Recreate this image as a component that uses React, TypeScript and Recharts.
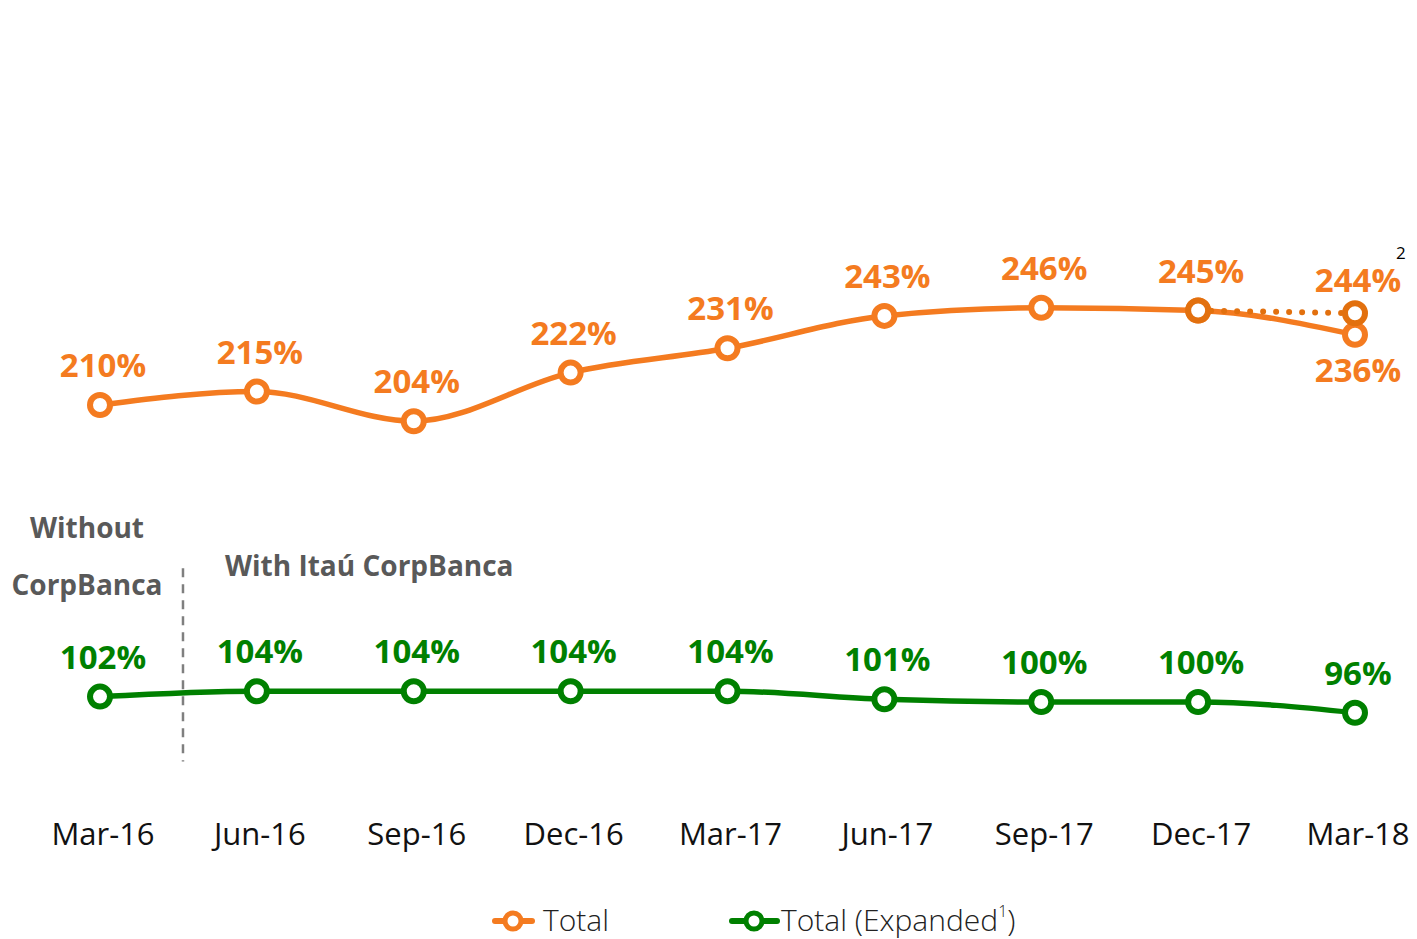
import React from 'react'
import { LineChart, Line, XAxis, YAxis, ReferenceLine } from 'recharts'

const categories = ['Mar-16', 'Jun-16', 'Sep-16', 'Dec-16', 'Mar-17', 'Jun-17', 'Sep-17', 'Dec-17', 'Mar-18']
const totalValues = [210, 215, 204, 222, 231, 243, 246, 245, 236]
const expandedValues = [102, 104, 104, 104, 104, 101, 100, 100, 96]
const projectedValues = [null, null, null, null, null, null, null, 245, 244]

const ORANGE = '#F47B20'
const ORANGE_DARK = '#E2700E'
const GREEN = '#008000'
const GREY = '#595959'
const FONT = '"Open Sans", "Noto Sans", sans-serif'

const data = categories.map((name, i) => ({
  name,
  total: totalValues[i],
  expanded: expandedValues[i],
  projected: projectedValues[i]
}))

const makeDot = (color: string, onlyFrom = 0) => (props: any) => {
  const { cx, cy, index, value } = props
  if (value == null || cx == null || index < onlyFrom) return <g key={`d-${index}`} />
  return <circle key={`d-${index}`} cx={cx} cy={cy} r={10} fill="#fff" stroke={color} strokeWidth={6} />
}

const makeLabel = (color: string, belowIndex = -1, onlyIndex = -1) => (props: any) => {
  const { x, y, value, index } = props
  if (value == null) return null
  if (onlyIndex >= 0 && index !== onlyIndex) return null
  const below = index === belowIndex
  return (
    <g>
      <text
        x={x + 3}
        y={below ? y + 47 : onlyIndex >= 0 ? y - 21 : y - 28}
        textAnchor="middle"
        fill={color}
        fontFamily={FONT}
        fontWeight={700}
        fontSize={33}
      >
        {value}%
      </text>
      {onlyIndex >= 0 && (
        <text x={x + 41} y={y - 54} fill="#000" fontFamily={FONT} fontSize={17}>
          2
        </text>
      )}
    </g>
  )
}

const Tick = (props: any) => {
  const { x, y, payload } = props
  return (
    <text x={x + 3} y={y + 62} textAnchor="middle" fill="#111" fontFamily={FONT} fontSize={31}>
      {payload.value}
    </text>
  )
}

export default function App() {
  return (
    <div style={{ position: 'absolute', left: 0, top: 0, width: 1417, height: 939, background: '#fff' }}>
      <LineChart width={1417} height={939} data={data} margin={{ top: 27, right: 62, left: 100, bottom: 96 }}>
        <XAxis
          dataKey="name"
          scale="point"
          padding={{ left: 0, right: 0 }}
          axisLine={false}
          tickLine={false}
          tickSize={0}
          tickMargin={0}
          height={60}
          interval={0}
          tick={<Tick />}
        />
        <XAxis xAxisId="n" type="number" domain={[0, 8]} hide />
        <YAxis type="number" domain={[70, 350]} hide allowDataOverflow />
        <ReferenceLine
          xAxisId="n"
          segment={[{ x: 0.529, y: 149.5 }, { x: 0.529, y: 78 }]}
          stroke="#7f7f7f"
          strokeWidth={2.5}
          strokeDasharray="9 7"
          ifOverflow="visible"
        />
        <Line
          dataKey="expanded"
          type="monotone"
          stroke={GREEN}
          strokeWidth={5.5}
          dot={makeDot(GREEN)}
          activeDot={false}
          label={makeLabel(GREEN)}
          isAnimationActive={false}
        />
        <Line
          dataKey="total"
          type="monotone"
          stroke={ORANGE}
          strokeWidth={5.5}
          dot={makeDot(ORANGE)}
          activeDot={false}
          label={makeLabel(ORANGE, 8)}
          isAnimationActive={false}
        />
        <Line
          dataKey="projected"
          type="linear"
          stroke={ORANGE_DARK}
          strokeWidth={6}
          strokeDasharray="0 13"
          strokeLinecap="round"
          dot={makeDot(ORANGE_DARK, 7)}
          activeDot={false}
          label={makeLabel(ORANGE, -1, 8)}
          isAnimationActive={false}
        />
      </LineChart>
      <svg
        width={1417}
        height={939}
        style={{ position: 'absolute', left: 0, top: 0, pointerEvents: 'none' }}
        fontFamily={FONT}
      >
        <text x={87} y={538} textAnchor="middle" fill={GREY} fontWeight={700} fontSize={28}>
          Without
        </text>
        <text x={87} y={595} textAnchor="middle" fill={GREY} fontWeight={700} fontSize={28}>
          CorpBanca
        </text>
        <text x={225} y={576} fill={GREY} fontWeight={700} fontSize={28}>
          With Itaú CorpBanca
        </text>
        <line x1={495} y1={921} x2={532} y2={921} stroke={ORANGE} strokeWidth={6} strokeLinecap="round" />
        <circle cx={513} cy={921} r={8} fill="#fff" stroke={ORANGE} strokeWidth={5} />
        <text x={543} y={931} fill="#222" fontSize={30} fontWeight={300}>
          Total
        </text>
        <line x1={732} y1={921} x2={777} y2={921} stroke={GREEN} strokeWidth={6} strokeLinecap="round" />
        <circle cx={754} cy={921} r={8} fill="#fff" stroke={GREEN} strokeWidth={5} />
        <text x={781} y={931} fill="#222" fontSize={30} fontWeight={300}>
          Total (Expanded<tspan fontSize={16} dy={-14}>1</tspan>
          <tspan dy={14}>)</tspan>
        </text>
      </svg>
    </div>
  )
}
